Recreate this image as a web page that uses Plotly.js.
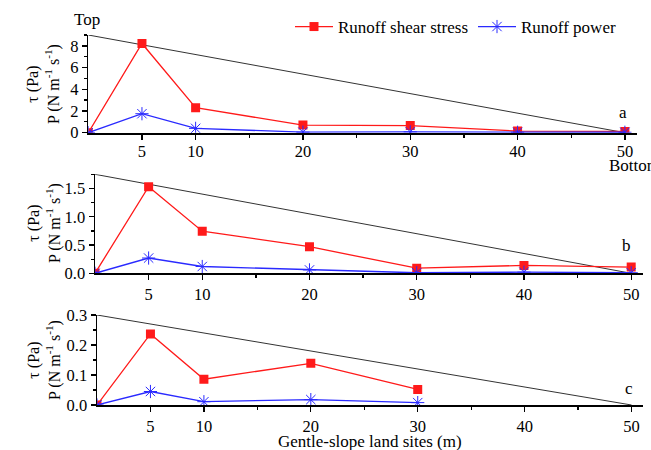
<!DOCTYPE html>
<html><head><meta charset="utf-8">
<script src="https://cdn.plot.ly/plotly-3.0.1.min.js"></script>
<style>html,body{margin:0;padding:0;background:#fff}</style>
</head><body><div id="chart" style="width:651px;height:450px"></div>
<script>
// Sites along the gentle slope (m)
const sites = [0, 5, 10, 20, 30, 40, 50];
const sitesC = [0, 5, 10, 20, 30];
// Panel a
const shearA = [0, 8.22, 2.3, 0.7, 0.66, 0.15, 0.12];
const powerA = [0, 1.75, 0.4, 0.05, 0.08, 0.04, 0.04];
// Panel b
const shearB = [0, 1.53, 0.745, 0.47, 0.09, 0.14, 0.11];
const powerB = [0, 0.27, 0.12, 0.06, 0.01, 0.02, 0.01];
// Panel c
const shearC = [0, 0.237, 0.086, 0.139, 0.052];
const powerC = [0, 0.045, 0.011, 0.018, 0.008];
// Slope profile lines (top -> bottom)
const slopeX = [0, 50];
const slopeA = [9, 0];
const slopeB = [1.75, 0];
const slopeC = [0.3, 0];
const xTicks = [5, 10, 20, 30, 40, 50];
const xMinor = [15, 25, 35, 45];

const RED = '#ff1a1a', BLUE = '#2a2aff';
const FONT = '"Liberation Serif", "Times New Roman", serif';

function shear(x, y, xa, ya, show) {
  return {x, y, xaxis: xa, yaxis: ya, type: 'scatter', mode: 'lines+markers',
    name: 'Runoff shear stress', showlegend: show, legendrank: 1,
    line: {color: RED, width: 1.3}, marker: {symbol: 'square', size: 9, color: RED}};
}
function power(x, y, xa, ya, show) {
  return {x, y, xaxis: xa, yaxis: ya, type: 'scatter', mode: 'lines+markers',
    name: 'Runoff power', showlegend: show, legendrank: 2,
    line: {color: BLUE, width: 1.3},
    marker: {symbol: 'asterisk-open', size: 11, color: BLUE, line: {color: BLUE, width: 1}}};
}
function slope(y, xa, ya) {
  return {x: slopeX, y, xaxis: xa, yaxis: ya, type: 'scatter', mode: 'lines',
    showlegend: false, hoverinfo: 'skip', line: {color: '#333', width: 1}};
}

const data = [
  slope(slopeA, 'x', 'y'), shear(sites, shearA, 'x', 'y', true), power(sites, powerA, 'x', 'y', true),
  slope(slopeB, 'x2', 'y2'), shear(sites, shearB, 'x2', 'y2', false), power(sites, powerB, 'x2', 'y2', false),
  slope(slopeC, 'x3', 'y3'), shear(sitesC, shearC, 'x3', 'y3', false), power(sitesC, powerC, 'x3', 'y3', false)
];

function xax(domain, anchor, standoff) {
  return {domain, anchor, range: [0, 51.1], tickmode: 'array', tickvals: xTicks,
    ticks: 'outside', ticklen: 5, tickwidth: 1.3, tickcolor: '#000', automargin: false,
    ticklabelstandoff: standoff,
    minor: {tickmode: 'array', tickvals: xMinor, ticks: 'outside', ticklen: 3, tickwidth: 1.3, tickcolor: '#000'},
    showline: true, linecolor: '#000', linewidth: 2, showgrid: false, zeroline: false,
    tickfont: {family: FONT, size: 16.5, color: '#000'}};
}
function yax(domain, anchor, range, dtick, minorD, fmt) {
  return {domain, anchor, range, dtick, tick0: 0, tickformat: fmt, automargin: false,
    ticks: 'outside', ticklen: 5, tickwidth: 1.3, tickcolor: '#000',
    minor: {dtick: minorD, ticks: 'outside', ticklen: 3, tickwidth: 1.3, tickcolor: '#000'},
    showline: true, linecolor: '#000', linewidth: 1.5, showgrid: false, zeroline: false,
    tickfont: {family: FONT, size: 16.5, color: '#000'}};
}

const ytitle = '\u03c4 (Pa)<br>P (N m<sup>-1</sup> s<sup>-1</sup>)';
function ann(text, xpx, ypx, extra, size) {
  return Object.assign({text, xref: 'paper', yref: 'paper', x: xpx / 651, y: 1 - ypx / 450,
    xanchor: 'center', yanchor: 'middle',
    showarrow: false, font: {family: FONT, size: size || 17, color: '#000'}}, extra || {});
}

const layout = {
  width: 651, height: 450, margin: {l: 0, r: 0, t: 0, b: 0, autoexpand: false},
  paper_bgcolor: '#fff', plot_bgcolor: 'rgba(0,0,0,0)',
  font: {family: FONT, size: 16, color: '#000'},
  xaxis: xax([88.3 / 651, 636.7 / 651], 'y', -3),
  yaxis: yax([1 - 132.7 / 450, 1 - 35 / 450], 'x', [0, 9], 2, 1, ''),
  xaxis2: xax([95 / 651, 643 / 651], 'y2', 0),
  yaxis2: yax([1 - 273.3 / 450, 1 - 174.3 / 450], 'x2', [0, 1.75], 0.5, 0.25, '.1f'),
  xaxis3: xax([97 / 651, 643.3 / 651], 'y3', 0),
  yaxis3: yax([1 - 405 / 450, 1 - 315 / 450], 'x3', [0, 0.3], 0.1, 0.05, '.1f'),
  showlegend: true,
  legend: {orientation: 'h', x: 290 / 651, y: 1 - 9 / 450, xanchor: 'left', yanchor: 'top',
    itemwidth: 38,
    bgcolor: 'rgba(0,0,0,0)', font: {family: FONT, size: 17, color: '#000'},
    traceorder: 'normal'},
  annotations: [
    ann('Top', 87, 20),
    ann('Bottom', 607, 165, {xanchor: 'left'}),
    ann('a', 623, 113), ann('b', 626, 246), ann('c', 629, 388),
    ann(ytitle, 44, 84, {textangle: -90}, 16),
    ann(ytitle, 44, 223, {textangle: -90}, 16),
    ann(ytitle, 44, 360, {textangle: -90}, 16),
    ann('Gentle-slope land sites (m)', 370, 441)
  ]
};
Plotly.newPlot('chart', data, layout, {displayModeBar: false, staticPlot: true});
</script></body></html>
